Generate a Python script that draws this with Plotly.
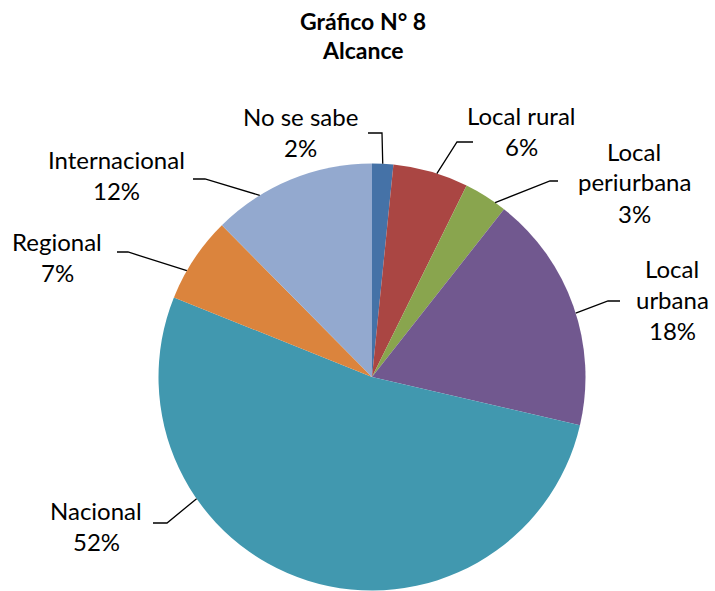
import math
import plotly.graph_objects as go

# ---- data ----
categories = ["No se sabe", "Local rural", "Local periurbana", "Local urbana",
              "Nacional", "Regional", "Internacional"]
label_lines = [["No se sabe"], ["Local rural"], ["Local", "periurbana"], ["Local", "urbana"],
               ["Nacional"], ["Regional"], ["Internacional"]]
values = [1.6, 5.7, 3.3, 18.0, 52.4, 6.5, 12.4]
colors = ["#4572A7", "#AA4643", "#89A54E", "#71588F", "#4198AF", "#DB843D", "#93A9CF"]

# ---- layout / style ----
W, H = 715, 591
FONT = "Lato"
FS = 24
TFS = 23
LINE_GAP = 31
cx_px, cy_px, r_px = 372, 377, 213.5
dom_x = [(cx_px - r_px) / W, (cx_px + r_px) / W]
dom_y = [1 - (cy_px + r_px) / H, 1 - (cy_px - r_px) / H]

# label block centres (px), leader start & elbow (px), attach fraction inside slice
label_center = [(300, 132), (521, 131), (634, 182), (672, 299), (96, 526), (57, 257), (116, 175)]
leader_start = [(368, 133), (473, 142), (558, 181), (620, 301), (153, 523), (117, 252), (193, 179)]
leader_elbow = [(382, 133), (457, 142), (550, 181), (608, 301), (167, 523), (128, 252), (205, 179)]
attach_frac = [0.5, 0.58, 0.75, 0.53, 0.70, 0.34, 0.29]


def px(x):
    return x / W


def py(y):
    return 1 - y / H


fig = go.Figure(go.Pie(
    values=values, labels=categories, sort=False, direction="clockwise", rotation=0,
    marker=dict(colors=colors, line=dict(width=0)), textinfo="none",
    hovertemplate="%{label}: %{percent:.0%}<extra></extra>",
    domain=dict(x=dom_x, y=dom_y), showlegend=False,
))

total = sum(values)
cum = 0.0
shapes = []
annotations = []
for i, v in enumerate(values):
    a0 = cum / total * 360
    cum += v
    a1 = cum / total * 360
    ang = math.radians(a0 + (a1 - a0) * attach_frac[i])
    ex = cx_px + r_px * math.sin(ang)
    ey = cy_px - r_px * math.cos(ang)
    (sx, sy), (bx, by) = leader_start[i], leader_elbow[i]
    shapes.append(dict(
        type="path", xref="paper", yref="paper",
        path=f"M {px(sx)} {py(sy)} L {px(bx)} {py(by)} L {px(ex)} {py(ey)}",
        line=dict(color="black", width=1.3),
    ))
    pct = f"{round(v / total * 100)}%"
    lines = label_lines[i] + [pct]
    lx, ly = label_center[i]
    n = len(lines)
    for k, t in enumerate(lines):
        yk = ly + (k - (n - 1) / 2) * LINE_GAP
        annotations.append(dict(
            text=t, x=px(lx), y=py(yk), xref="paper", yref="paper",
            xanchor="center", yanchor="middle", showarrow=False,
            font=dict(family=FONT, size=FS, color="black"),
        ))

for t, y in [("<b>Gráfico N° 8</b>", 21), ("<b>Alcance</b>", 50)]:
    annotations.append(dict(
        text=t, x=px(363), y=py(y), xref="paper", yref="paper",
        xanchor="center", yanchor="middle", showarrow=False,
        font=dict(family=FONT, size=TFS, color="black"),
    ))

fig.update_layout(
    width=W, height=H, margin=dict(l=0, r=0, t=0, b=0),
    paper_bgcolor="white", plot_bgcolor="white",
    shapes=shapes, annotations=annotations,
)
fig.write_html("out.html", config={"displayModeBar": False},
               post_script="document.body.style.margin='0';document.body.style.overflow='hidden';")
